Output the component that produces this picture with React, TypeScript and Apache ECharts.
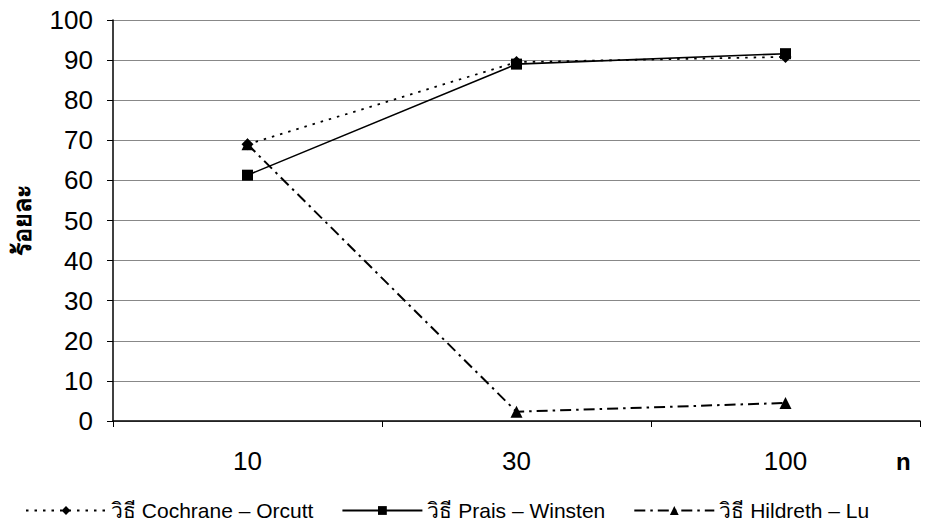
import React, { useEffect, useRef } from "react";
import * as echarts from "echarts";

const categories = ["10", "30", "100"];
const cochrane = [69, 89.5, 90.8];
const prais = [61.3, 89, 91.6];
const hildreth = [69, 2.3, 4.5];
const yTicks = { min: 0, max: 100, interval: 10 };

export default function App() {
  const ref = useRef<HTMLDivElement>(null);
  useEffect(() => {
    const chart = echarts.init(ref.current!, null, { renderer: "svg" });
    const font = "Liberation Sans, Arial, sans-serif";
    const narrow = "Liberation Sans Narrow, Arial Narrow, Liberation Sans, sans-serif";
    chart.setOption({
      animation: false,
      backgroundColor: "#fff",
      textStyle: { fontFamily: font, color: "#000" },
      grid: { left: 110, right: 5, top: 20, bottom: 107, containLabel: false },
      legend: {
        bottom: 2,
        left: 20,
        itemWidth: 80,
        itemHeight: 11,
        itemGap: 28,
        textStyle: { fontSize: 21, color: "#000", fontFamily: narrow },
        data: [
          "วิธี Cochrane – Orcutt",
          "วิธี Prais – Winsten",
          "วิธี Hildreth – Lu",
        ],
      },
      graphic: [
        {
          type: "text",
          left: 896,
          top: 449,
          style: { text: "n", fontSize: 24, fontWeight: "bold", fill: "#000", fontFamily: font },
        },
      ],
      xAxis: {
        type: "category",
        data: categories,
        boundaryGap: true,
        axisLine: { lineStyle: { color: "#000", width: 1.5 } },
        axisTick: { show: true, inside: false, length: 6, lineStyle: { color: "#000" } },
        axisLabel: { fontSize: 26, color: "#000", margin: 27, fontFamily: narrow },
        splitLine: { show: false },
      },
      yAxis: {
        type: "value",
        min: yTicks.min,
        max: yTicks.max,
        interval: yTicks.interval,
        name: "ร้อยละ",
        nameLocation: "middle",
        nameGap: 80,
        nameRotate: 90,
        nameTextStyle: { fontSize: 25, fontWeight: "bold", color: "#000", fontFamily: "Noto Sans, sans-serif" },
        axisLine: { show: true, lineStyle: { color: "#000", width: 1.5 } },
        axisTick: { show: true, length: 6, lineStyle: { color: "#000" } },
        axisLabel: { fontSize: 26, color: "#000", margin: 20, fontFamily: narrow },
        splitLine: { show: true, lineStyle: { color: "#888", width: 1 } },
      },
      series: [
        {
          name: "วิธี Cochrane – Orcutt",
          type: "line",
          data: cochrane,
          symbol: "diamond",
          symbolSize: 12,
          itemStyle: { color: "#000" },
          lineStyle: { color: "#000", width: 1.8, type: [2.5, 6] },
          z: 3,
        },
        {
          name: "วิธี Prais – Winsten",
          type: "line",
          data: prais,
          symbol: "rect",
          symbolSize: 11,
          itemStyle: { color: "#000" },
          lineStyle: { color: "#000", width: 1.6, type: "solid" },
          z: 2,
        },
        {
          name: "วิธี Hildreth – Lu",
          type: "line",
          data: hildreth,
          symbol: "triangle",
          symbolSize: 12,
          itemStyle: { color: "#000" },
          lineStyle: { color: "#000", width: 2, type: [11, 5, 2.5, 5] },
          z: 4,
        },
      ],
    });
    return () => chart.dispose();
  }, []);
  return (
    <div
      ref={ref}
      style={{ position: "fixed", left: 0, top: 0, width: 925, height: 528 }}
    />
  );
}
